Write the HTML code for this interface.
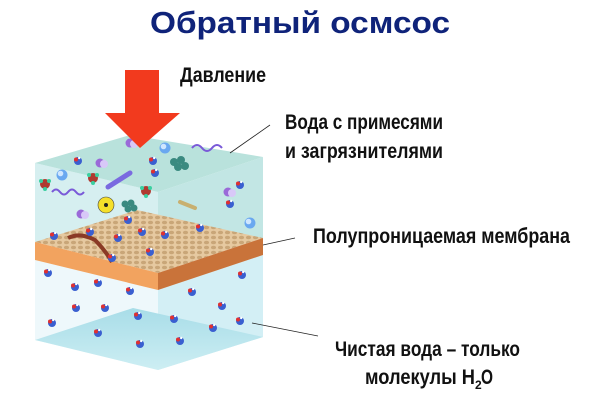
<!DOCTYPE html>
<html><head><meta charset="utf-8"><style>html,body{margin:0;padding:0;background:#fff;width:605px;height:414px;overflow:hidden}</style></head><body>
<svg width="605" height="414" viewBox="0 0 605 414" xmlns="http://www.w3.org/2000/svg" font-family="Liberation Sans, sans-serif" font-weight="bold">
<defs>
<pattern id="holes" width="7" height="5" patternUnits="userSpaceOnUse">
<rect width="7" height="5" fill="#e6c9a0"/>
<ellipse cx="3.5" cy="2.5" rx="2.6" ry="1.8" fill="#c9a678"/>
</pattern>
<linearGradient id="bot" x1="0" y1="0" x2="0" y2="1"><stop offset="0" stop-color="#a8dde8"/><stop offset="1" stop-color="#cdeef3"/></linearGradient>
<g id="m"><circle r="4" fill="#3a5fd0"/><circle cx="-2" cy="-1.5" r="2" fill="#e03030"/><circle cx="1.2" cy="-3" r="1.2" fill="#fff"/></g>
<g id="r"><circle r="5" fill="#b03a30"/><circle cx="-4" cy="-3" r="2" fill="#3ad0a0"/><circle cx="4" cy="-3" r="2" fill="#3ad0a0"/><circle cx="0" cy="5" r="2" fill="#3ad0a0"/></g>
<g id="b"><circle r="5.5" fill="#6aa8f0"/><circle cx="-1.5" cy="-1.5" r="2.8" fill="#cfe6ff"/></g>
<g id="v"><circle r="4.5" fill="#9a6ad8"/><circle cx="4" cy="1" r="4" fill="#d8c8f8"/></g>
</defs>
<text x="150" y="33" font-size="31" fill="#0f237a" textLength="300" lengthAdjust="spacingAndGlyphs">Обратный осмсос</text>
<polygon points="35,260 158,290 158,370 35,340" fill="#eef8fb"/>
<polygon points="158,290 263,255 263,337 158,370" fill="#d3eff5"/>
<polygon points="35,340 133,308 263,337 158,370" fill="url(#bot)"/>
<polygon points="35,163 158,192 158,260 35,242" fill="#d6eff0"/>
<polygon points="158,192 263,157 263,238 158,260" fill="#c2e6e4"/>
<polygon points="35,163 130,135 263,157 158,192" fill="#b9e2dc"/>
<polygon points="35,242 137,210 263,238 158,273" fill="url(#holes)"/>
<polygon points="35,242 158,273 158,290 35,260" fill="#f2a35f"/>
<polygon points="158,273 263,238 263,255 158,290" fill="#c9733a"/>
<path d="M68,238 Q80,232 95,240 Q105,250 112,262" stroke="#8a3a25" stroke-width="4" fill="none"/>
<use href="#v" x="130" y="143"/><use href="#b" x="165" y="148"/><use href="#m" x="153" y="161"/>
<use href="#m" x="78" y="161"/><use href="#v" x="100" y="163"/><use href="#b" x="62" y="175"/>
<use href="#r" x="45" y="184"/><use href="#r" x="93" y="178"/><use href="#r" x="146" y="191"/>
<use href="#m" x="155" y="173"/><use href="#m" x="240" y="185"/><use href="#v" x="228" y="192"/>
<use href="#m" x="230" y="204"/><use href="#b" x="250" y="223"/><use href="#v" x="81" y="214"/>
<circle cx="106" cy="205" r="8" fill="#f5e02a" stroke="#444" stroke-width="0.6"/>
<circle cx="106" cy="205" r="2" fill="#222"/>
<g fill="#3a8a80"><circle cx="174" cy="162" r="4"/><circle cx="181" cy="160" r="4"/><circle cx="178" cy="167" r="4"/><circle cx="185" cy="166" r="4"/><circle cx="125" cy="204" r="3.5"/><circle cx="131" cy="203" r="3.5"/><circle cx="128" cy="209" r="3.5"/><circle cx="134" cy="208" r="3.5"/></g>
<path d="M192,148 q5,-6 10,0 t10,0 t10,0" stroke="#7a5ad8" stroke-width="2" fill="none"/>
<path d="M52,192 q4,-5 8,0 t8,0 t8,0 t8,0" stroke="#7a5ad8" stroke-width="2" fill="none"/>
<path d="M108,187 L130,173" stroke="#7a6ae0" stroke-width="5" stroke-linecap="round"/>
<path d="M180,202 L195,208" stroke="#c8b070" stroke-width="4" stroke-linecap="round"/>
<use href="#m" x="128" y="220"/><use href="#m" x="142" y="232"/><use href="#m" x="118" y="238"/><use href="#m" x="165" y="235"/><use href="#m" x="200" y="228"/><use href="#m" x="90" y="232"/><use href="#m" x="150" y="252"/><use href="#m" x="112" y="258"/><use href="#m" x="54" y="236"/>
<use href="#m" x="48" y="273"/><use href="#m" x="75" y="287"/><use href="#m" x="98" y="283"/><use href="#m" x="130" y="291"/><use href="#m" x="192" y="292"/><use href="#m" x="242" y="275"/><use href="#m" x="76" y="308"/><use href="#m" x="105" y="308"/><use href="#m" x="222" y="306"/><use href="#m" x="52" y="323"/><use href="#m" x="98" y="333"/><use href="#m" x="138" y="316"/><use href="#m" x="174" y="319"/><use href="#m" x="213" y="328"/><use href="#m" x="240" y="321"/><use href="#m" x="140" y="344"/><use href="#m" x="180" y="341"/>
<polygon points="125,70 159,70 159,113 180,113 140,148 105,113 125,113" fill="#f23a1e"/>
<g stroke="#222" stroke-width="0.8"><line x1="230" y1="153" x2="270" y2="125"/><line x1="263" y1="245" x2="295" y2="238"/><line x1="252" y1="323" x2="318" y2="336"/></g>
<g font-size="21" fill="#111">
<text x="180" y="82" textLength="86" lengthAdjust="spacingAndGlyphs">Давление</text>
<text x="285" y="129" textLength="158" lengthAdjust="spacingAndGlyphs">Вода с примесями</text>
<text x="285" y="158" textLength="158" lengthAdjust="spacingAndGlyphs">и загрязнителями</text>
<text x="313" y="243" textLength="257" lengthAdjust="spacingAndGlyphs">Полупроницаемая мембрана</text>
<text x="335" y="356" textLength="185" lengthAdjust="spacingAndGlyphs">Чистая вода – только</text>
<text x="365" y="384" textLength="110" lengthAdjust="spacingAndGlyphs">молекулы H</text>
<text x="475" y="389" font-size="12">2</text>
<text x="481" y="384" textLength="12" lengthAdjust="spacingAndGlyphs">O</text>
</g>
</svg>
</body></html>
